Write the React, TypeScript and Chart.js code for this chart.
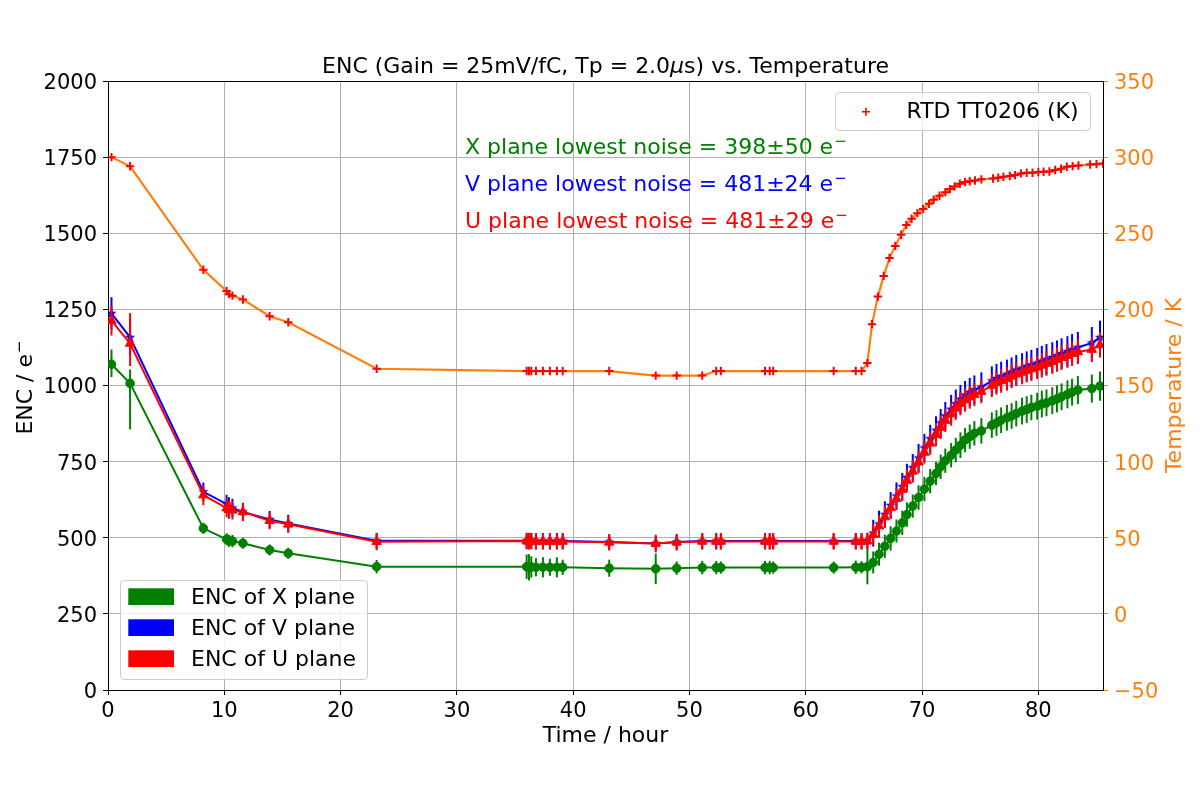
import React, { useEffect, useRef } from 'react';
import { Chart, registerables } from 'chart.js';

Chart.register(...registerables);

// ---------------- data ----------------
const encHours = [
  0.3, 1.9, 8.2, 10.2, 10.4, 10.7, 11.6, 13.9, 15.5, 23.1,
  36.0, 36.2, 36.4, 36.8, 37.4, 38.0, 38.6, 39.1, 43.1, 47.1, 48.9, 51.1, 52.3, 52.7, 56.5, 56.9, 57.2, 62.4, 64.3, 64.8, 65.3,
  65.8, 66.3, 66.8, 67.3, 67.8, 68.3, 68.7, 69.2, 69.7, 70.2, 70.7, 71.2, 71.6, 72.0, 72.5, 72.9, 73.3, 73.7, 74.1, 74.5,
  75.1, 76.0, 76.4, 76.8, 77.3, 77.7, 78.1, 78.6, 79.0, 79.4, 79.9, 80.3, 80.7, 81.2, 81.6, 82.0, 82.5, 82.9, 83.4, 84.6, 85.3,
];

const xPlaneENC = [
  1070, 1007, 531, 495, 490, 489, 482, 460, 449, 405,
  405, 403, 404, 403, 403, 403, 403, 403, 400, 398, 400, 402, 402, 402, 402, 402, 402, 402, 403, 403, 405,
  419, 446, 472, 498, 522, 549, 576, 604, 632, 660, 686, 711, 733, 753, 771, 788, 804, 821, 832, 843,
  851, 870, 877, 886, 894, 900, 908, 916, 921, 928, 932, 939, 943, 950, 956, 963, 971, 978, 985, 990, 998,
];
const xPlaneErrLow = [
  42, 151, 18, 20, 20, 20, 18, 18, 18, 22,
  40, 43, 35, 30, 33, 28, 33, 25, 28, 50, 22, 22, 22, 20, 22, 22, 20, 20, 22, 20, 58,
  36, 38, 38, 40, 38, 40, 40, 38, 40, 40, 40, 38, 40, 40, 40, 40, 42, 40, 40, 40,
  42, 42, 42, 42, 42, 42, 42, 44, 44, 42, 44, 44, 44, 44, 44, 44, 46, 44, 46, 46, 48,
];
const xPlaneErrHigh = [
  48, 46, 18, 20, 20, 20, 18, 18, 18, 22,
  40, 43, 35, 30, 33, 28, 33, 25, 28, 50, 22, 22, 22, 20, 22, 22, 20, 20, 22, 20, 58,
  36, 38, 38, 40, 38, 40, 40, 38, 40, 40, 40, 38, 40, 40, 40, 40, 42, 40, 40, 40,
  42, 42, 42, 42, 42, 42, 42, 44, 44, 42, 44, 44, 44, 44, 44, 44, 46, 44, 46, 46, 48,
];

const vPlaneENC = [
  1237, 1158, 651, 611, 603, 598, 585, 560, 547, 490,
  490, 490, 489, 489, 489, 489, 489, 489, 486, 481, 486, 489, 489, 489, 489, 489, 489, 489, 489, 489, 490,
  515, 545, 576, 606, 637, 668, 698, 730, 762, 795, 825, 853, 877, 900, 922, 940, 955, 968, 978, 986,
  995, 1015, 1023, 1030, 1037, 1044, 1051, 1057, 1063, 1068, 1074, 1080, 1086, 1092, 1098, 1105, 1112, 1118, 1125, 1140, 1158,
];
const vPlaneErrLow = [
  53, 60, 30, 30, 30, 30, 28, 28, 28, 26,
  26, 26, 26, 26, 26, 26, 26, 26, 25, 24, 25, 26, 26, 26, 26, 26, 26, 26, 26, 26, 26,
  44, 44, 44, 44, 45, 45, 45, 45, 46, 46, 46, 46, 46, 46, 47, 47, 47, 47, 47, 47,
  48, 48, 48, 48, 48, 48, 49, 49, 49, 49, 49, 50, 50, 50, 50, 50, 50, 51, 51, 52, 55,
];
const vPlaneErrHigh = [
  53, 60, 30, 30, 30, 30, 28, 28, 28, 26,
  26, 26, 26, 26, 26, 26, 26, 26, 25, 24, 25, 26, 26, 26, 26, 26, 26, 26, 26, 26, 26,
  44, 44, 44, 44, 45, 45, 45, 45, 46, 46, 46, 46, 46, 46, 47, 47, 47, 47, 47, 47,
  48, 48, 48, 48, 48, 48, 49, 49, 49, 49, 49, 50, 50, 50, 50, 50, 50, 51, 51, 52, 55,
];

const uPlaneENC = [
  1213, 1138, 640, 597, 592, 590, 585, 556, 544, 487,
  489, 488, 489, 488, 488, 488, 488, 488, 485, 481, 485, 488, 488, 488, 488, 488, 488, 488, 488, 488, 489,
  510, 538, 568, 598, 628, 658, 688, 718, 748, 780, 810, 838, 862, 885, 906, 925, 940, 952, 962, 970,
  980, 1000, 1008, 1015, 1022, 1030, 1037, 1043, 1049, 1054, 1060, 1066, 1072, 1078, 1085, 1091, 1098, 1104, 1110, 1118, 1133,
];
const uPlaneErrLow = [
  49, 74, 33, 30, 30, 30, 30, 28, 28, 28,
  27, 27, 27, 27, 27, 27, 27, 27, 27, 29, 27, 27, 27, 27, 27, 27, 27, 27, 27, 27, 27,
  35, 36, 36, 36, 36, 37, 37, 37, 37, 37, 38, 38, 38, 38, 38, 38, 38, 38, 38, 38,
  38, 38, 38, 39, 39, 39, 39, 39, 39, 39, 39, 40, 40, 40, 40, 40, 40, 40, 40, 41, 41,
];
const uPlaneErrHigh = [
  49, 100, 33, 30, 30, 30, 30, 28, 28, 28,
  27, 27, 27, 27, 27, 27, 27, 27, 27, 29, 27, 27, 27, 27, 27, 27, 27, 27, 27, 27, 27,
  35, 36, 36, 36, 36, 37, 37, 37, 37, 37, 38, 38, 38, 38, 38, 38, 38, 38, 38, 38,
  38, 38, 38, 39, 39, 39, 39, 39, 39, 39, 39, 40, 40, 40, 40, 40, 40, 40, 40, 41, 41,
];

const tempHours = [
  0.3, 1.9, 8.2, 10.2, 10.4, 10.7, 11.6, 13.9, 15.5, 23.1,
  36.0, 36.2, 36.4, 36.8, 37.4, 38.0, 38.6, 39.1, 43.1, 47.1, 48.9, 51.1, 52.3, 52.7, 56.5, 56.9, 57.2, 62.4, 64.3, 64.8,
  65.3, 65.7, 66.2, 66.7, 67.2, 67.7, 68.2, 68.65, 69.1, 69.6, 70.1, 70.6, 71.0, 71.5, 72.0, 72.4, 72.8, 73.25, 73.7, 74.1,
  74.55, 75.1, 76.1, 76.55, 77.0, 77.55, 78.0, 78.5, 79.0, 79.5, 80.0, 80.45, 80.95, 81.45, 81.95, 82.45, 82.95, 83.45,
  84.45, 85.0, 85.56,
];
const tempKelvin = [
  300, 294, 226, 212, 210, 209, 206.5, 195.5, 191.5, 161,
  159.5, 159.5, 159.5, 159.5, 159.5, 159.5, 159.5, 159.5, 159.5, 156.5, 156.5, 156.5, 159.5, 159.5, 159.5, 159.5, 159.5,
  159.5, 159.5, 159.5,
  164.7, 190.3, 208.4, 222, 233.7, 241.7, 249, 255.5, 259.5, 263.2, 266, 269.3, 272, 274.6, 277, 279, 280.7, 282.5, 283.6,
  284.2, 284.6, 285.4, 286.0, 286.5, 287.1, 287.6, 288.2, 289.3, 289.7, 289.7, 290.2, 290.4, 290.6, 291.5, 292.4, 293.7,
  294.1, 294.5, 295.2, 295.4, 295.8,
];

const titleParts = ['ENC (Gain = 25mV/fC, Tp = 2.0', 'μ', 's) vs. Temperature'];
const annotations = [
  { text: 'X plane lowest noise = 398±50 e', color: '#008000' },
  { text: 'V plane lowest noise = 481±24 e', color: '#0000ff' },
  { text: 'U plane lowest noise = 481±29 e', color: '#ff0000' },
];
const encLegend = [
  { label: 'ENC of X plane', color: '#008000' },
  { label: 'ENC of V plane', color: '#0000ff' },
  { label: 'ENC of U plane', color: '#ff0000' },
];
const tempLegendLabel = 'RTD TT0206 (K)';
const xLabel = 'Time / hour';
const yLabel = 'ENC / e';
const y2Label = 'Temperature / K';

// ---------------- drawing helpers ----------------
const FAM = '"DejaVu Sans", sans-serif';
const f = (size: number, style = '') => `${style ? style + ' ' : ''}${size}px ${FAM}`;

type Part = { t: string; font: string; dy?: number; dx?: number };

function partsWidth(ctx: CanvasRenderingContext2D, parts: Part[]) {
  let w = 0;
  for (const p of parts) {
    ctx.font = p.font;
    w += ctx.measureText(p.t).width + (p.dx || 0);
  }
  return w;
}

function drawParts(ctx: CanvasRenderingContext2D, parts: Part[], x: number, y: number, align: 'left' | 'center') {
  const w = partsWidth(ctx, parts);
  let cx = align === 'center' ? x - w / 2 : x;
  ctx.textAlign = 'left';
  ctx.textBaseline = 'alphabetic';
  for (const p of parts) {
    ctx.font = p.font;
    cx += p.dx || 0;
    ctx.fillText(p.t, cx, y + (p.dy || 0));
    cx += ctx.measureText(p.t).width;
  }
}

const supMinus = (): Part => ({ t: '−', font: f(15), dy: -8, dx: 1 });

const fmtTick = (v: any) => String(v).replace('-', '−');

function makeStar(color: string, outer: number, inner: number) {
  const size = Math.ceil(outer * 2) + 2;
  const c = document.createElement('canvas');
  c.width = size;
  c.height = size;
  const g = c.getContext('2d')!;
  g.fillStyle = color;
  g.beginPath();
  for (let k = 0; k < 10; k++) {
    const r = k % 2 === 0 ? outer : inner;
    const a = -Math.PI / 2 + (k * Math.PI) / 5;
    const px = size / 2 + r * Math.cos(a);
    const py = size / 2 + r * Math.sin(a);
    if (k === 0) g.moveTo(px, py);
    else g.lineTo(px, py);
  }
  g.closePath();
  g.fill();
  return c;
}

const overlayPlugin = {
  id: 'overlay',
  beforeDatasetDraw(chart: any, args: any) {
    const ds = chart.data.datasets[args.index];
    if (!ds.errLow) return;
    const { ctx, chartArea } = chart;
    const xs = chart.scales.x;
    const ys = chart.scales.y;
    ctx.save();
    ctx.beginPath();
    ctx.rect(chartArea.left, chartArea.top, chartArea.right - chartArea.left, chartArea.bottom - chartArea.top);
    ctx.clip();
    ctx.strokeStyle = ds.borderColor;
    ctx.lineWidth = 2;
    ds.data.forEach((p: any, i: number) => {
      const px = xs.getPixelForValue(p.x);
      ctx.beginPath();
      ctx.moveTo(px, ys.getPixelForValue(p.y - ds.errLow[i]));
      ctx.lineTo(px, ys.getPixelForValue(p.y + ds.errHigh[i]));
      ctx.stroke();
    });
    ctx.restore();
  },
  afterDraw(chart: any) {
    const { ctx, chartArea } = chart;
    ctx.save();

    // top spine
    ctx.strokeStyle = '#000';
    ctx.lineWidth = 1;
    ctx.beginPath();
    ctx.moveTo(chartArea.left, chartArea.top + 0.5);
    ctx.lineTo(chartArea.right + 1, chartArea.top + 0.5);
    ctx.stroke();

    const cx = (chartArea.left + chartArea.right) / 2;
    const cy = (chartArea.top + chartArea.bottom) / 2;

    // title
    ctx.fillStyle = '#000';
    drawParts(ctx, [
      { t: titleParts[0], font: f(22) },
      { t: titleParts[1], font: f(22, 'italic') },
      { t: titleParts[2], font: f(22) },
    ], cx, 73, 'center');

    // x label
    drawParts(ctx, [{ t: xLabel, font: f(22) }], cx, 742, 'center');

    // left y label
    ctx.save();
    ctx.translate(32, cy + 2);
    ctx.rotate(-Math.PI / 2);
    ctx.fillStyle = '#000';
    drawParts(ctx, [{ t: yLabel, font: f(22) }, supMinus()], 0, 0, 'center');
    ctx.restore();

    // right y label
    ctx.save();
    ctx.translate(1181, cy);
    ctx.rotate(-Math.PI / 2);
    ctx.fillStyle = '#ff7f0e';
    drawParts(ctx, [{ t: y2Label, font: f(22) }], 0, 0, 'center');
    ctx.restore();

    // annotations
    annotations.forEach((a, i) => {
      ctx.fillStyle = a.color;
      drawParts(ctx, [{ t: a.text, font: f(22) }, supMinus()], 465, 154 + i * 36.8, 'left');
    });

    // ENC legend (lower left)
    ctx.beginPath();
    ctx.roundRect(120.5, 580.5, 247, 99, 4);
    ctx.fillStyle = 'rgba(255,255,255,0.8)';
    ctx.fill();
    ctx.strokeStyle = '#cccccc';
    ctx.lineWidth = 1;
    ctx.stroke();
    encLegend.forEach((l, i) => {
      const top = 588.3 + i * 31;
      ctx.fillStyle = l.color;
      ctx.fillRect(128.3, top, 45.7, 16.7);
      ctx.fillStyle = '#000';
      drawParts(ctx, [{ t: l.label, font: f(22) }], 191, top + 16, 'left');
    });

    // temperature legend (upper right)
    ctx.beginPath();
    ctx.roundRect(835.5, 92.5, 255, 38, 4);
    ctx.fillStyle = 'rgba(255,255,255,0.8)';
    ctx.fill();
    ctx.strokeStyle = '#cccccc';
    ctx.stroke();
    ctx.strokeStyle = '#ff0000';
    ctx.lineWidth = 1.6;
    ctx.beginPath();
    ctx.moveTo(862, 111.7);
    ctx.lineTo(870, 111.7);
    ctx.moveTo(866, 107.7);
    ctx.lineTo(866, 115.7);
    ctx.stroke();
    ctx.fillStyle = '#000';
    drawParts(ctx, [{ t: tempLegendLabel, font: f(22) }], 906.5, 117.5, 'left');

    ctx.restore();
  },
};

export default function App() {
  const ref = useRef<HTMLCanvasElement | null>(null);

  useEffect(() => {
    if (!ref.current) return;
    const star = makeStar('#0000ff', 5.4, 2.2);
    const pts = (xs: number[], ys: number[]) => xs.map((x, i) => ({ x, y: ys[i] }));
    const tickFont = { family: FAM, size: 21, lineHeight: 1 };

    const chart = new Chart(ref.current, {
      type: 'line',
      data: {
        datasets: [
          {
            label: tempLegendLabel,
            yAxisID: 'y2',
            data: pts(tempHours, tempKelvin),
            borderColor: '#ff7f0e',
            backgroundColor: '#ff7f0e',
            borderWidth: 2.2,
            pointStyle: 'cross',
            pointRadius: 4.2,
            pointBorderColor: '#ff0000',
            pointBackgroundColor: '#ff0000',
            pointBorderWidth: 2,
            tension: 0,
            fill: false,
          },
          {
            label: encLegend[2].label,
            yAxisID: 'y',
            data: pts(encHours, uPlaneENC),
            errLow: uPlaneErrLow,
            errHigh: uPlaneErrHigh,
            borderColor: '#ff0000',
            backgroundColor: '#ff0000',
            borderWidth: 2,
            pointStyle: 'triangle',
            pointRadius: 5.5,
            pointBorderColor: '#ff0000',
            pointBackgroundColor: '#ff0000',
            pointBorderWidth: 1,
            tension: 0,
            fill: false,
          } as any,
          {
            label: encLegend[1].label,
            yAxisID: 'y',
            data: pts(encHours, vPlaneENC),
            errLow: vPlaneErrLow,
            errHigh: vPlaneErrHigh,
            borderColor: '#0000ff',
            backgroundColor: '#0000ff',
            borderWidth: 2,
            pointStyle: star,
            pointRadius: 5,
            tension: 0,
            fill: false,
          } as any,
          {
            label: encLegend[0].label,
            yAxisID: 'y',
            data: pts(encHours, xPlaneENC),
            errLow: xPlaneErrLow,
            errHigh: xPlaneErrHigh,
            borderColor: '#008000',
            backgroundColor: '#008000',
            borderWidth: 2,
            pointStyle: 'circle',
            pointRadius: 4.3,
            pointBorderColor: '#008000',
            pointBackgroundColor: '#008000',
            pointBorderWidth: 1,
            tension: 0,
            fill: false,
          } as any,
        ],
      },
      options: {
        responsive: false,
        animation: false,
        devicePixelRatio: 1,
        layout: { padding: { top: 81, left: 0, right: 0, bottom: 0 } },
        plugins: {
          legend: { display: false },
          title: { display: false },
          tooltip: { enabled: false },
        },
        scales: {
          x: {
            type: 'linear',
            position: 'bottom',
            min: 0,
            max: 85.56,
            afterFit: (s: any) => { s.height = 110; },
            ticks: {
              stepSize: 10,
              includeBounds: false,
              font: tickFont,
              color: '#000',
              padding: 6,
              maxRotation: 0,
              autoSkip: false,
              callback: fmtTick,
            },
            grid: { color: '#b0b0b0', lineWidth: 1, tickColor: '#000', tickLength: 5, tickWidth: 1 },
            border: { color: '#000', width: 1 },
          },
          y: {
            type: 'linear',
            position: 'left',
            min: 0,
            max: 2000,
            afterFit: (s: any) => { s.width = 108; },
            ticks: {
              stepSize: 250,
              includeBounds: false,
              font: tickFont,
              color: '#000',
              padding: 6,
              labelOffset: 2.5,
              callback: fmtTick,
            },
            grid: { color: '#b0b0b0', lineWidth: 1, tickColor: '#000', tickLength: 5, tickWidth: 1 },
            border: { color: '#000', width: 1 },
          },
          y2: {
            type: 'linear',
            position: 'right',
            min: -50,
            max: 350,
            afterFit: (s: any) => { s.width = 97; },
            ticks: {
              stepSize: 50,
              includeBounds: false,
              font: tickFont,
              color: '#ff7f0e',
              padding: 6,
              labelOffset: 2.5,
              callback: fmtTick,
            },
            grid: { drawOnChartArea: false, tickColor: '#ff7f0e', tickLength: 5, tickWidth: 1 },
            border: { color: '#000', width: 1 },
          },
        },
      } as any,
      plugins: [overlayPlugin],
    });

    return () => chart.destroy();
  }, []);

  return (
    <div style={{ position: 'absolute', left: 0, top: 0, width: 1200, height: 800, background: '#fff' }}>
      <canvas ref={ref} width={1200} height={800} />
    </div>
  );
}
